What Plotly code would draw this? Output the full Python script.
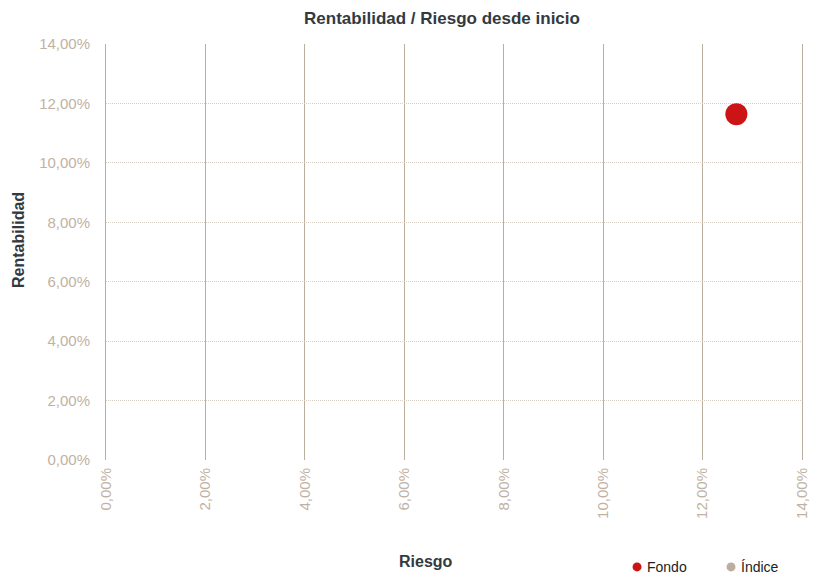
import plotly.graph_objects as go

# Data (values as fractions)
series_names = ["Fondo", "Índice"]
riesgo = [0.1268, None]
rentabilidad = [0.1164, None]
colors = ["#CC1417", "#BBAE9F"]

x_ticks = [0, 0.02, 0.04, 0.06, 0.08, 0.10, 0.12, 0.14]
x_tick_labels = ["0,00%", "2,00%", "4,00%", "6,00%", "8,00%", "10,00%", "12,00%", "14,00%"]
y_ticks = [0, 0.02, 0.04, 0.06, 0.08, 0.10, 0.12, 0.14]
y_tick_labels = ["0,00%", "2,00%", "4,00%", "6,00%", "8,00%", "10,00%", "12,00%", "14,00%"]

FONT = "Liberation Sans, Arial, sans-serif"
TICK_COLOR = "#BFB2A4"
TITLE_COLOR = "#333A3F"

fig = go.Figure()
for i, name in enumerate(series_names):
    fig.add_trace(go.Scatter(
        x=[riesgo[i]], y=[rentabilidad[i]], mode="markers", name=name,
        marker=dict(color=colors[i], size=22, line=dict(width=0)),
        showlegend=False,
    ))

# custom legend (circle + label)
legend_pos = [(0.763, 0.7744), (0.898, 0.9095)]
legend_y = -0.257
for i, name in enumerate(series_names):
    cx, tx = legend_pos[i]
    fig.add_shape(type="circle", xref="paper", yref="paper",
                  xsizemode="pixel", ysizemode="pixel",
                  xanchor=cx, yanchor=legend_y,
                  x0=-4.5, x1=4.5, y0=-4.5, y1=4.5,
                  fillcolor=colors[i], line=dict(width=0))
    fig.add_annotation(text=name, xref="paper", yref="paper", x=tx, y=legend_y,
                       xanchor="left", yanchor="middle", showarrow=False,
                       font=dict(size=14, color="#222222", family=FONT))

# axis titles
fig.add_annotation(text="<b>Riesgo</b>", xref="paper", yref="paper", x=0.46, y=-0.245,
                   xanchor="center", yanchor="middle", showarrow=False,
                   font=dict(size=16, color=TITLE_COLOR, family=FONT))
fig.add_annotation(text="<b>Rentabilidad</b>", xref="paper", yref="paper", x=-0.125, y=0.529,
                   xanchor="center", yanchor="middle", showarrow=False, textangle=-90,
                   font=dict(size=16, color=TITLE_COLOR, family=FONT))

fig.update_layout(
    width=822, height=574,
    margin=dict(l=98, r=28, t=36, b=122),
    paper_bgcolor="white", plot_bgcolor="white",
    font=dict(family=FONT),
    title=dict(text="<b>Rentabilidad / Riesgo desde inicio</b>", x=0.528, xanchor="center",
               y=0.983, yanchor="middle", font=dict(size=17, color=TITLE_COLOR, family=FONT)),
    showlegend=False,
    xaxis=dict(
        range=[0, 0.14], tickvals=x_ticks, ticktext=x_tick_labels, tickangle=-90,
        tickfont=dict(size=15, color=TICK_COLOR, family=FONT),
        showgrid=True, gridcolor="#BBAE9F", gridwidth=1,
        zeroline=False, showline=False,
        ticks="", fixedrange=True, ticklabelstandoff=4,
    ),
    yaxis=dict(
        range=[0, 0.14], tickvals=y_ticks, ticktext=y_tick_labels,
        tickfont=dict(size=15, color=TICK_COLOR, family=FONT),
        showgrid=True, gridcolor="#D6CCC1", gridwidth=1, griddash="1px,1px",
        zeroline=False, showline=True, linecolor="#BBAE9F", mirror=True,
        ticks="", fixedrange=True, ticklabelstandoff=12,
    ),
)

fig.write_html("out.html")
